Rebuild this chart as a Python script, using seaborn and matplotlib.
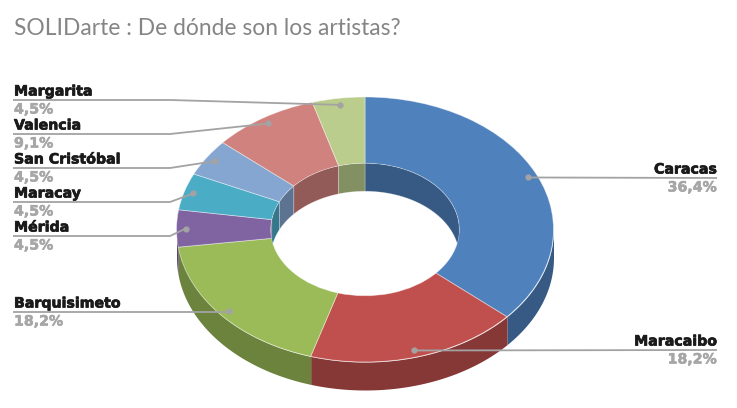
import numpy as np
import matplotlib
matplotlib.use("Agg")
import matplotlib.pyplot as plt
import matplotlib.patheffects as pe
from matplotlib.patches import Circle
import seaborn as sns

# Data
cities = ["Caracas", "Maracaibo", "Barquisimeto", "Mérida", "Maracay", "San Cristóbal", "Valencia", "Margarita"]
values = [36.4, 18.2, 18.2, 4.5, 4.5, 4.5, 9.1, 4.5]
pct_labels = ["36,4%", "18,2%", "18,2%", "4,5%", "4,5%", "4,5%", "9,1%", "4,5%"]
colors = ["#4f81bd", "#c0504d", "#9bbb59", "#8064a2", "#4bacc6", "#84a6d0", "#d0827e", "#bbcd8c"]
title = "SOLIDarte : De dónde son los artistas?"

# label line height in pixels, and which side
line_y = [178, 350, 312, 236, 202, 168, 134, 100]
side = ["r", "r", "l", "l", "l", "l", "l", "l"]

W, H = 737, 408
cx, cy, rx, ry = 365.0, 229.5, 188.5, 132.5
depth = 28 / ry
hole = 0.5

sns.set_theme(style="white")
plt.rcParams["font.family"] = ["DejaVu Sans"]

fig = plt.figure(figsize=(W / 100, H / 100), dpi=100)
ax = fig.add_axes([0, 0, 1, 1])


def X(px):
    return (px - cx) / rx


def Y(py):
    return (cy - py) / ry


def darker(c, f=0.7):
    return tuple(v * f for v in matplotlib.colors.to_rgb(c))


pal = sns.color_palette(colors)
total = sum(values)
ends = 90 - 360 * np.cumsum(values) / total
starts = np.r_[90, ends[:-1]]

# outer wall (front half only)
for a, b, c in zip(starts, ends, pal):
    t = np.radians(np.linspace(a, b, 200))
    t = t[np.sin(t) <= 0.0]
    if len(t) > 1:
        ax.fill_between(np.cos(t), np.sin(t), np.sin(t) - depth, color=darker(c), lw=0, zorder=1)

ax.pie(values, colors=pal, startangle=90, counterclock=False, radius=1,
       wedgeprops=dict(width=1 - hole, edgecolor=(1, 1, 1, 0.45), linewidth=0.6, zorder=2))

# inner wall (back half of the hole)
clip = Circle((0, 0), hole, transform=ax.transData)
for a, b, c in zip(starts, ends, pal):
    t = np.radians(np.linspace(a, b, 200))
    t = t[np.sin(t) >= 0.0]
    if len(t) > 1:
        xs = hole * np.cos(t)
        ys = hole * np.sin(t)
        px = np.r_[xs, xs[::-1]]
        py = np.r_[ys, ys[::-1] - depth]
        poly = ax.fill(px, py, facecolor=darker(c), edgecolor=(1, 1, 1, 0.35), lw=0.5, zorder=3)[0]
        poly.set_clip_path(clip)

ax.set_aspect("auto")
ax.set_xlim(X(0), X(W))
ax.set_ylim(Y(H), Y(0))
ax.axis("off")

# leader lines, dots and labels
mids = np.radians((starts + ends) / 2)
grey = "#a6a6a6"
for name, pct, ly, s, m in zip(cities, pct_labels, line_y, side, mids):
    dx, dy = 0.95 * np.cos(m), 0.95 * np.sin(m)
    if s == "r":
        xs, ys = [X(717), dx], [Y(ly), dy]
        tx, ha = X(717), "right"
    else:
        elbow = X(170) if ly < 300 else dx
        xs, ys = [X(13), elbow, dx], [Y(ly), Y(ly), dy]
        tx, ha = X(14), "left"
    ax.plot(xs, ys, color="#a3a3a3", lw=1.3, zorder=5, solid_capstyle="butt")
    ax.plot([dx], [dy], "o", color="#a3a3a3", ms=3.5, zorder=6)
    t1 = ax.text(tx, Y(ly - 8.5), name, ha=ha, va="center", fontsize=10.2, fontweight="bold", color="#1a1a1a", zorder=7)
    t2 = ax.text(tx, Y(ly + 9.5), pct, ha=ha, va="center", fontsize=10.2, fontweight="bold", color=grey, zorder=7)
    t1.set_path_effects([pe.withStroke(linewidth=0.5, foreground="#1a1a1a")])
    t2.set_path_effects([pe.withStroke(linewidth=0.4, foreground=grey)])

ax.text(X(14), Y(28), title, ha="left", va="center", fontsize=16.4, color="#858585", family="Lato")

fig.savefig("out.png", dpi=100, facecolor="white")
